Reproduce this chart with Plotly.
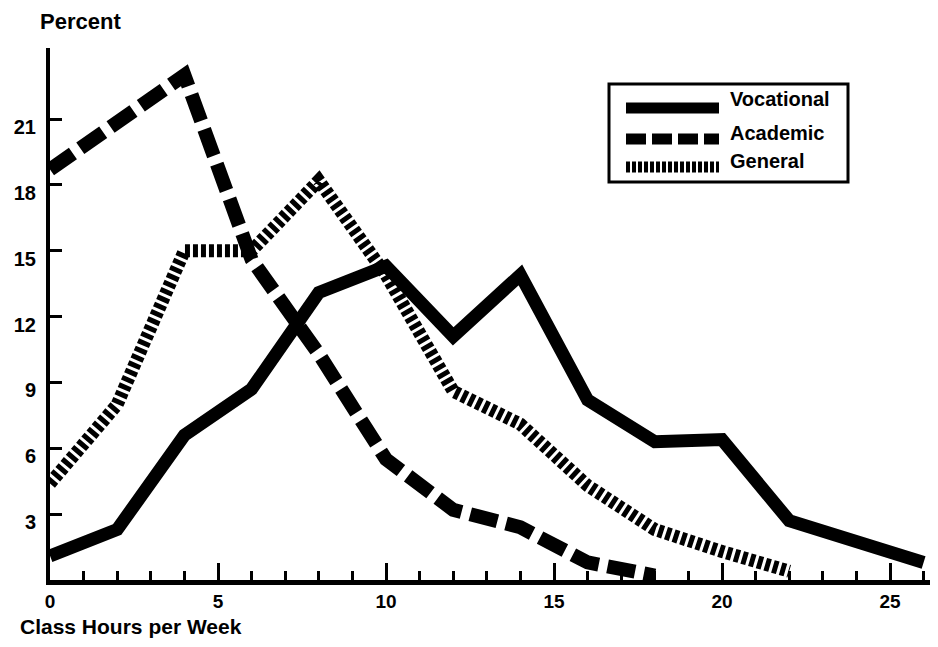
import plotly.graph_objects as go

# ---- data ----
hours_voc = [0, 2, 4, 6, 8, 10, 12, 14, 16, 18, 20, 22, 26]
vocational = [1.1, 2.3, 6.6, 8.7, 13.1, 14.3, 11.1, 13.9, 8.2, 6.3, 6.4, 2.7, 0.8]

hours_acad = [0, 4, 6, 8, 10, 12, 14, 16, 18]
academic = [18.7, 23.0, 14.6, 10.3, 5.5, 3.2, 2.4, 0.8, 0.2]

hours_gen = [0, 2, 4, 6, 8, 10, 12, 14, 16, 18, 20, 22]
general = [4.4, 8.0, 15.0, 15.0, 18.2, 13.9, 8.6, 7.1, 4.3, 2.3, 1.3, 0.4]

x_ticks = [0, 5, 10, 15, 20, 25]
y_ticks = [3, 6, 9, 12, 15, 18, 21]

series_names = ["Vocational", "Academic", "General"]

# ---- layout geometry ----
W, H = 938, 647
L, R, T, B = 42, 3, 40, 75
PW, PH = W - L - R, H - T - B
X_PER_UNIT = 33.6
Y_PER_UNIT = 21.95
FONT = "Liberation Sans"


def px(xp):
    return (xp - L) / PW


def py(yp):
    return (H - B - yp) / PH


fig = go.Figure()

fig.add_trace(go.Scatter(x=hours_voc, y=vocational, mode="lines", name=series_names[0],
                         line=dict(color="black", width=13), showlegend=False))
fig.add_trace(go.Scatter(x=hours_acad, y=academic, mode="lines", name=series_names[1],
                         line=dict(color="black", width=14, dash="28px,9px"), showlegend=False))
fig.add_trace(go.Scatter(x=hours_gen, y=general, mode="lines", name=series_names[2],
                         line=dict(color="black", width=13, dash="5px,3px"), showlegend=False))

# ---- hand-drawn style legend box ----
shapes = [dict(type="rect", xref="paper", yref="paper",
               x0=px(601), x1=px(840), y0=py(76), y1=py(174),
               line=dict(color="black", width=3), fillcolor="white")]
legend_rows = [(100, 91, "solid"), (131, 125, "20px,6px"), (159, 153, "4px,2px")]
annotations = []
for (yl, yt, dash), name in zip(legend_rows, series_names):
    shapes.append(dict(type="line", xref="paper", yref="paper",
                       x0=px(618), x1=px(711), y0=py(yl), y1=py(yl),
                       line=dict(color="black", width=11, dash=dash)))
    annotations.append(dict(text="<b>" + name + "</b>", xref="paper", yref="paper",
                            x=px(720), y=py(yt), xanchor="left", yanchor="middle",
                            showarrow=False, font=dict(family=FONT, size=20, color="black")))

annotations.append(dict(text="<b>Percent</b>", xref="paper", yref="paper",
                        x=px(30), y=py(13), xanchor="left", yanchor="middle",
                        showarrow=False, font=dict(family=FONT, size=22, color="black")))
annotations.append(dict(text="<b>Class Hours per Week</b>", xref="paper", yref="paper",
                        x=px(10), y=py(618), xanchor="left", yanchor="middle",
                        showarrow=False, font=dict(family=FONT, size=21, color="black")))

fig.update_layout(
    width=W, height=H,
    margin=dict(l=L, r=R, t=T, b=B, autoexpand=False),
    paper_bgcolor="white", plot_bgcolor="white",
    shapes=shapes, annotations=annotations,
    font=dict(family=FONT, size=20, color="black"),
    xaxis=dict(range=[0, PW / X_PER_UNIT], tickvals=x_ticks,
               ticktext=["<b>%d</b>" % v for v in x_ticks],
               ticks="inside", ticklen=17, tickwidth=3, tickcolor="black",
               minor=dict(dtick=1, tick0=0, ticks="inside", ticklen=9, tickwidth=3, tickcolor="black"),
               showline=True, linewidth=5, linecolor="black", showgrid=False, zeroline=False,
               ticklabelstandoff=0, tickfont=dict(family=FONT, size=19, color="black")),
    yaxis=dict(range=[0, PH / Y_PER_UNIT], tickvals=y_ticks,
               ticktext=["<b>%d</b>" % v for v in y_ticks],
               ticks="inside", ticklen=12, tickwidth=3, tickcolor="black",
               showline=True, linewidth=4, linecolor="black", showgrid=False, zeroline=False,
               ticklabelstandoff=6, ticklabelshift=8,
               tickfont=dict(family=FONT, size=20, color="black")),
)

fig.write_html("out.html")
